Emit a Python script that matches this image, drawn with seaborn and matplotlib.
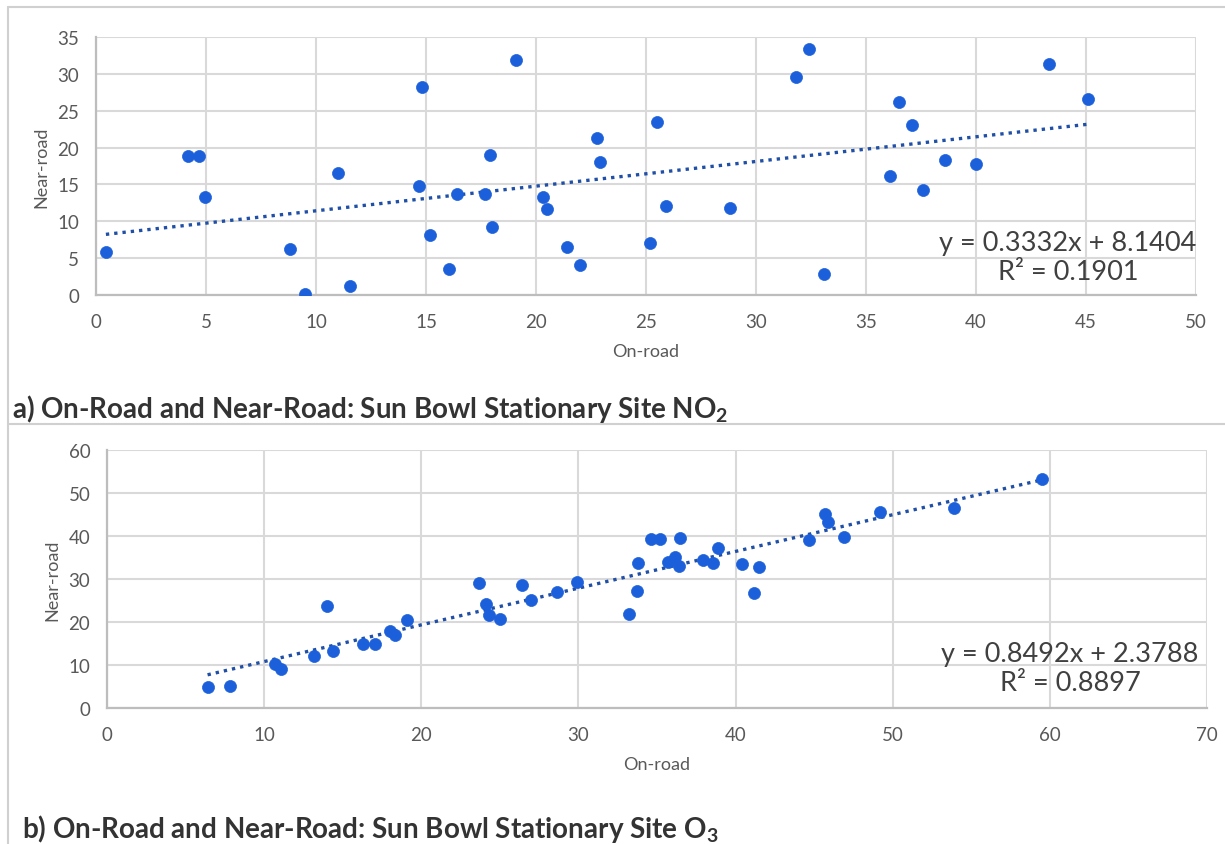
import numpy as np
import pandas as pd
import matplotlib
matplotlib.use("Agg")
import matplotlib.pyplot as plt
from matplotlib.lines import Line2D
import seaborn as sns

# ---- Data: panel a (NO2) ----
no2_on = [0.45, 4.2, 4.67, 4.96, 8.8, 9.5, 11.0, 11.55, 14.7, 14.8, 15.2, 16.05,
          16.4, 17.7, 17.9, 18.0, 19.1, 20.3, 20.5, 21.4, 22.0, 22.75, 22.9,
          25.5, 25.9, 25.2, 28.8, 31.8, 32.4, 33.1, 36.1, 36.5, 37.1, 37.6,
          38.6, 40.0, 43.3, 45.1]
no2_near = [5.8, 18.8, 18.9, 13.3, 6.2, 0.2, 16.5, 1.2, 14.8, 28.2, 8.2, 3.5,
            13.7, 13.7, 19.0, 9.2, 31.9, 13.3, 11.6, 6.5, 4.1, 21.3, 18.1,
            23.5, 12.1, 7.1, 11.8, 29.6, 33.4, 2.85, 16.2, 26.2, 23.0, 14.2,
            18.3, 17.8, 31.3, 26.6]

# ---- Data: panel b (O3) ----
o3_on = [6.4, 7.85, 10.7, 11.1, 13.2, 14.0, 14.4, 16.3, 17.05, 18.0, 18.35, 19.1,
         23.7, 24.1, 24.3, 25.0, 26.4, 27.0, 28.65, 29.9,
         33.2, 33.7, 33.8, 34.6, 35.2, 36.45, 35.7, 36.15, 36.4, 37.9, 38.55,
         38.85, 40.4, 41.2, 41.5, 44.7, 45.7, 45.9, 46.9, 49.2, 53.9, 59.5]
o3_near = [4.8, 5.2, 10.3, 9.1, 12.1, 23.8, 13.2, 14.9, 14.9, 18.0, 17.0, 20.5,
           29.1, 24.1, 21.6, 20.7, 28.7, 25.1, 27.0, 29.4,
           21.9, 27.2, 33.7, 39.3, 39.3, 39.6, 33.9, 35.2, 33.0, 34.4, 33.7,
           37.3, 33.5, 26.8, 32.8, 39.0, 45.1, 43.3, 39.7, 45.5, 46.5, 53.2]

eq_a = "y = 0.3332x + 8.1404\nR² = 0.1901"
eq_b = "y = 0.8492x + 2.3788\nR² = 0.8897"
cap_a = r"a) On-Road and Near-Road: Sun Bowl Stationary Site NO$_\mathbf{2}$"
cap_b = r"b) On-Road and Near-Road: Sun Bowl Stationary Site O$_\mathbf{3}$"

sns.set_theme(style="white")
plt.rcParams['font.family'] = ['Lato', 'DejaVu Sans']
plt.rcParams['mathtext.fontset'] = 'custom'
plt.rcParams['mathtext.rm'] = 'Lato'
plt.rcParams['mathtext.bf'] = 'Lato:bold'

W, H = 1225, 845
fig = plt.figure(figsize=(W / 100, H / 100), dpi=100)
fig.patch.set_facecolor("white")

def ax_rect(l, t, r, b):
    return [l / W, 1 - b / H, (r - l) / W, (b - t) / H]

PT = "#1b5fdb"
LINE = "#1f4fa6"
GRID = "#d9d9d9"
TXT = "#595959"

def style(ax, xmax, xstep, ymax, ystep):
    ax.set_xlim(0, xmax)
    ax.set_ylim(0, ymax)
    ax.set_xticks(np.arange(0, xmax + 0.1, xstep))
    ax.set_yticks(np.arange(0, ymax + 0.1, ystep))
    ax.grid(True, color=GRID, linewidth=1.5)
    ax.set_axisbelow(True)
    for s in ["top", "right"]:
        ax.spines[s].set_visible(False)
    for s in ["bottom", "left"]:
        ax.spines[s].set_color("#bdbdbd")
        ax.spines[s].set_linewidth(1.6)
    ax.tick_params(axis="both", length=0, labelsize=13.5, colors=TXT)
    ax.tick_params(axis="x", pad=13)
    ax.tick_params(axis="y", pad=12)
    ax.set_facecolor("white")

scat = dict(s=75, color=PT, edgecolor=PT, linewidths=0.5, alpha=1, zorder=3)
lin = dict(color=LINE, linestyle=(0, (1, 1.5)), linewidth=2.4, zorder=2)

# Panel a
ax1 = fig.add_axes(ax_rect(96, 38, 1196, 296))
df_a = pd.DataFrame({"On-road": no2_on, "Near-road": no2_near})
sns.regplot(data=df_a, x="On-road", y="Near-road", ax=ax1, ci=None,
            scatter_kws=scat, line_kws=lin)
style(ax1, 50, 5, 35, 5)
ax1.set_xlabel("On-road", fontsize=13, color=TXT, labelpad=9)
ax1.set_ylabel("Near-road", fontsize=13, color=TXT, labelpad=6)

# Panel b
ax2 = fig.add_axes(ax_rect(107, 451, 1207, 709))
df_b = pd.DataFrame({"On-road": o3_on, "Near-road": o3_near})
sns.regplot(data=df_b, x="On-road", y="Near-road", ax=ax2, ci=None,
            scatter_kws=scat, line_kws=lin)
style(ax2, 70, 10, 60, 10)
ax2.set_xlabel("On-road", fontsize=13, color=TXT, labelpad=9)
ax2.set_ylabel("Near-road", fontsize=13, color=TXT, labelpad=6)

def place(txt, x, y, **kw):
    fig.text(x / W, 1 - y / H, txt, **kw)

place(eq_a, 1068, 258, fontsize=19.5, color="#404040", ha="center", va="center",
      linespacing=1.2, zorder=10)
place(eq_b, 1070, 669, fontsize=19.5, color="#404040", ha="center", va="center",
      linespacing=1.2, zorder=10)

place(cap_a, 12, 409, fontsize=20, fontweight="bold", color="#333333",
      ha="left", va="center")
place(cap_b, 22, 829, fontsize=20, fontweight="bold", color="#333333",
      ha="left", va="center")

# Frame lines
fc = "#d0d0d0"
fig.add_artist(Line2D([8 / W, 1], [1 - 8 / H, 1 - 8 / H], color=fc, lw=1.5))
fig.add_artist(Line2D([8 / W, 8 / W], [0, 1 - 8 / H], color=fc, lw=1.5))
fig.add_artist(Line2D([8 / W, 1], [1 - 425 / H, 1 - 425 / H], color=fc, lw=1.5))

fig.savefig("out.png", dpi=100, facecolor="white")
